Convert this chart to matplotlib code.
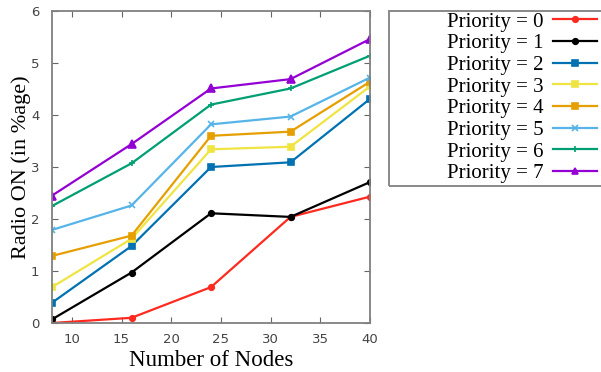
import matplotlib
matplotlib.use("Agg")
import matplotlib.pyplot as plt
from matplotlib.patches import Rectangle

nodes = [8, 16, 24, 32, 40]
p0 = [0.0, 0.10, 0.69, 2.04, 2.43]
p1 = [0.07, 0.97, 2.11, 2.04, 2.71]
p2 = [0.39, 1.48, 3.00, 3.09, 4.31]
p3 = [0.69, 1.62, 3.34, 3.39, 4.55]
p4 = [1.29, 1.68, 3.60, 3.68, 4.64]
p5 = [1.79, 2.26, 3.82, 3.97, 4.72]
p6 = [2.25, 3.07, 4.20, 4.51, 5.14]
p7 = [2.45, 3.44, 4.51, 4.69, 5.46]
series = [p0, p1, p2, p3, p4, p5, p6, p7]
labels = ["Priority = %d" % i for i in range(8)]
x_ticks = [10, 15, 20, 25, 30, 35, 40]
y_ticks = [0, 1, 2, 3, 4, 5, 6]

colors = ["#ff2a1f", "#000000", "#0072b2", "#f0e442", "#e69f00", "#56b4e9", "#009e73", "#9400d3"]
markers = ["o", "o", "s", "s", "s", "x", "+", "^"]
msizes = [4, 4, 5, 5, 5, 5, 5, 6]

W, H = 601, 372
fig = plt.figure(figsize=(W / 100, H / 100), dpi=100)
ax = fig.add_axes([52 / W, 1 - 323 / H, (370 - 52) / W, (323 - 11) / H])
for s, lab, c, m, ms in zip(series, labels, colors, markers, msizes):
    ax.plot(nodes, s, color=c, marker=m, markersize=ms, linewidth=1.6, label=lab,
            markeredgewidth=1.2)

ax.set_xlim(8, 40)
ax.set_ylim(0, 6)
ax.set_xticks(x_ticks)
ax.set_yticks(y_ticks)
ax.tick_params(direction="in", top=True, right=True, labelsize=9.5, colors="#666666",
               labelcolor="#444444", length=4)
ax.tick_params(axis="x", pad=7)
ax.tick_params(axis="y", pad=9)
for sp in ax.spines.values():
    sp.set_color("#808080")
    sp.set_linewidth(1.3)
ax.set_xlabel("Number of Nodes", family="Liberation Serif", fontsize=16.5, labelpad=3)
ax.set_ylabel("Radio ON (in %age)", family="Liberation Serif", fontsize=16, labelpad=0)

fs = 15
leg = fig.legend(loc="upper right", bbox_to_anchor=(597 / W, 1 - 12 / H), markerfirst=False,
                 prop={"family": "Liberation Serif", "size": fs}, frameon=False,
                 labelspacing=0.1, handlelength=2.1, borderpad=0.0, handletextpad=0.45,
                 borderaxespad=0)
for h in leg.legend_handles:
    h.set_markersize(4)
fig.patches.append(Rectangle((389 / W, 1 - 186 / H), 0.4, (186 - 11) / H,
                             transform=fig.transFigure, fill=False,
                             edgecolor="#808080", linewidth=1.3))

fig.savefig("out.png", dpi=100)
